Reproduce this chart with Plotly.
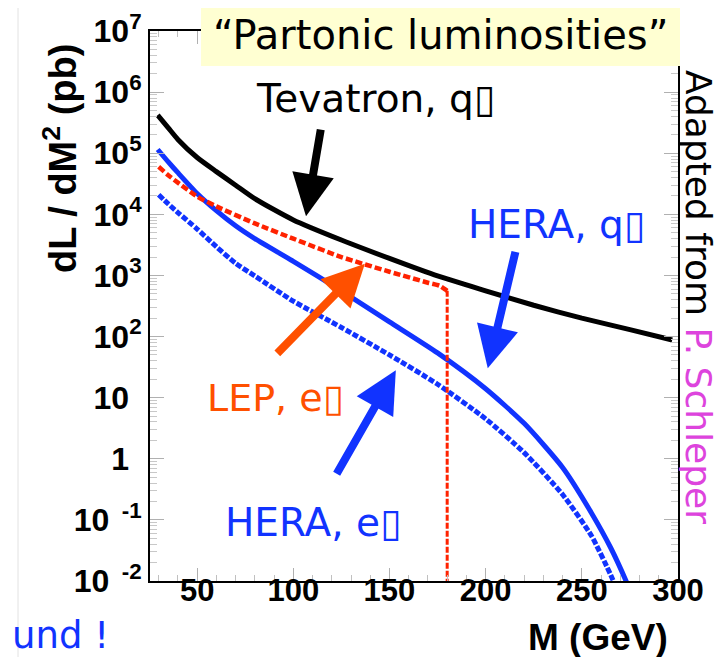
import plotly.graph_objects as go

# ---------------- data ----------------
tev_M = [29.5, 35, 40, 50, 60, 70, 80, 100, 125, 150, 175, 200, 225, 250, 275, 297]
tev_L = [4.2e5, 2.6e5, 1.68e5, 8.5e4, 5.0e4, 3.0e4, 1.8e4, 8.1e3, 3.8e3, 1.9e3, 980, 560, 325, 200, 130, 88]

heraq_M = [29.5, 35, 40, 50, 60, 70, 80, 100, 125, 150, 175, 200, 220, 240, 255, 265, 273, 275]
heraq_L = [1.15e5, 7.2e4, 4.8e4, 2.2e4, 1.15e4, 6.5e3, 4.0e3, 1.7e3, 560, 174, 54, 14, 3.8, 0.72, 0.13, 0.035, 0.01, 0.007]

herae_M = [30, 35, 40, 50, 60, 70, 80, 100, 125, 150, 175, 200, 220, 240, 255, 265, 267]
herae_L = [2.09e4, 1.48e4, 1.07e4, 5.75e3, 2.95e3, 1.58e3, 980, 380, 141, 50, 16.6, 4.5, 1.26, 0.26, 0.055, 0.0126, 0.009]

lep_M = [30, 35, 40, 50, 60, 80, 100, 125, 150, 170, 176, 179, 180]
lep_L = [6.0e4, 4.36e4, 3.3e4, 1.95e4, 1.35e4, 7.1e3, 4.0e3, 2.0e3, 1.15e3, 760, 680, 590, 560]
lep_cut_M = [180, 180]
lep_cut_L = [560, 0.003]

x_ticks = [50, 100, 150, 200, 250, 300]
y_tickvals = [1e-2, 1e-1, 1, 10, 1e2, 1e3, 1e4, 1e5, 1e6, 1e7]
HID = "<sup><span style='color:rgba(0,0,0,0)'>0</span></sup>"
y_ticktext = ["10<sup>\u00a0\u00a0-2</sup>", "10<sup>\u00a0\u00a0-1</sup>", "1" + HID, "10" + HID,
              "10<sup>2</sup>", "10<sup>3</sup>", "10<sup>4</sup>", "10<sup>5</sup>",
              "10<sup>6</sup>", "10<sup>7</sup>"]

BLACK = "#000000"
BLUE = "#1133FF"
RED = "#FF2200"
ORANGE = "#FF5000"
MAGENTA = "#DD44DD"
HAND = "DejaVu Sans"
ROOTF = "Liberation Sans"

fig = go.Figure()
fig.add_trace(go.Scatter(x=tev_M, y=tev_L, mode="lines", line=dict(color=BLACK, width=5, shape="spline", smoothing=0.6)))
fig.add_trace(go.Scatter(x=heraq_M, y=heraq_L, mode="lines", line=dict(color=BLUE, width=5, shape="spline", smoothing=0.6)))
fig.add_trace(go.Scatter(x=herae_M, y=herae_L, mode="lines", line=dict(color=BLUE, width=5, dash="6px,2px", shape="spline", smoothing=0.6)))
fig.add_trace(go.Scatter(x=lep_M, y=lep_L, mode="lines", line=dict(color=RED, width=4.5, dash="7px,3px", shape="spline", smoothing=0.5)))
fig.add_trace(go.Scatter(x=lep_cut_M, y=lep_cut_L, mode="lines", line=dict(color=RED, width=3, dash="6px,2px")))

L, R, T, B = 142, 57, 23, 84
W, H = 727, 657
pw, ph = W - L - R, H - T - B

def px(x):
    return (x - L) / pw

def py(y):
    return (H - B - y) / ph

fig.update_layout(
    width=W, height=H,
    margin=dict(l=L, r=R, t=T, b=B, autoexpand=False),
    paper_bgcolor="white", plot_bgcolor="white",
    showlegend=False,
    xaxis=dict(range=[25.5, 300], tickvals=x_ticks, ticks="inside", ticklen=13, tickwidth=1,
               tickcolor="#b0b0b0", showline=True, linecolor="black", linewidth=2, mirror="ticks",
               showgrid=False, zeroline=False, ticklabelstandoff=-19, ticklabeloverflow="allow",
               tickfont=dict(family=ROOTF, size=31, color="black", weight="bold"),
               minor=dict(dtick=10, ticks="inside", ticklen=6, tickcolor="#c0c0c0", tickwidth=1, showgrid=False)),
    yaxis=dict(type="log", range=[-2, 7], tickvals=y_tickvals, ticktext=y_ticktext, ticks="inside",
               ticklen=14, tickwidth=1, tickcolor="#b0b0b0", showline=True, linecolor="black",
               linewidth=2, mirror="ticks", showgrid=False, zeroline=False, ticklabeloverflow="allow",
               tickfont=dict(family=ROOTF, size=32, color="black", weight="bold"),
               minor=dict(ticks="inside", ticklen=7, tickcolor="#c8c8c8", tickwidth=1, dtick="D1", showgrid=False)),
)

shapes = [
    dict(type="rect", xref="paper", yref="paper", x0=px(193), x1=px(672), y0=py(58), y1=py(0),
         fillcolor="#FFFFD2", line=dict(width=0), layer="above"),
    dict(type="line", xref="paper", yref="paper", x0=px(10), x1=px(10), y0=py(657), y1=py(0),
         line=dict(color="#e2e2e2", width=1)),
]
fig.update_layout(shapes=shapes)

ann = []
def text(x, y, s, color, size, family=HAND, angle=0, weight="normal"):
    ann.append(dict(xref="paper", yref="paper", x=px(x), y=py(y), text=s, showarrow=False,
                    xanchor="center", yanchor="middle", textangle=angle,
                    font=dict(family=family, size=size, color=color, weight=weight)))

text(432, 27, "\u201cPartonic luminosities\u201d", BLACK, 40)
text(367, 90, "Tevatron, q\u25af", BLACK, 39)
text(548, 216, "HERA, q\u25af", BLUE, 39)
text(267, 390, "LEP, e\u25af", ORANGE, 38)
text(305, 514, "HERA, e\u25af", BLUE, 39)
text(691, 289, "Adapted from <span style='color:%s'>P. Schleper</span>" % MAGENTA, BLACK, 36, angle=90)
text(52, 627, "und !", BLUE, 37)
text(52, 151, "dL / dM<sup>2</sup> (pb)", BLACK, 38, family=ROOTF, angle=-90, weight="bold")
text(590, 630, "M (GeV)", BLACK, 37, family=ROOTF, weight="bold")

def arrow(tip_x, tip_logy, ax, ay, color):
    ann.append(dict(xref="x", yref="y", x=tip_x, y=tip_logy, ax=ax, ay=ay, axref="pixel", ayref="pixel",
                    text="", showarrow=True, arrowhead=2, arrowsize=1.05, arrowwidth=8, arrowcolor=color,
                    standoff=0))

arrow(106.6, 3.97, 15, -88, BLACK)
arrow(137.2, 3.19, -89, 91, ORANGE)
arrow(201.1, 1.48, 28, -118, BLUE)
arrow(153.3, 1.45, -60, 105, BLUE)

fig.update_layout(annotations=ann)
fig.write_html("out.html")
